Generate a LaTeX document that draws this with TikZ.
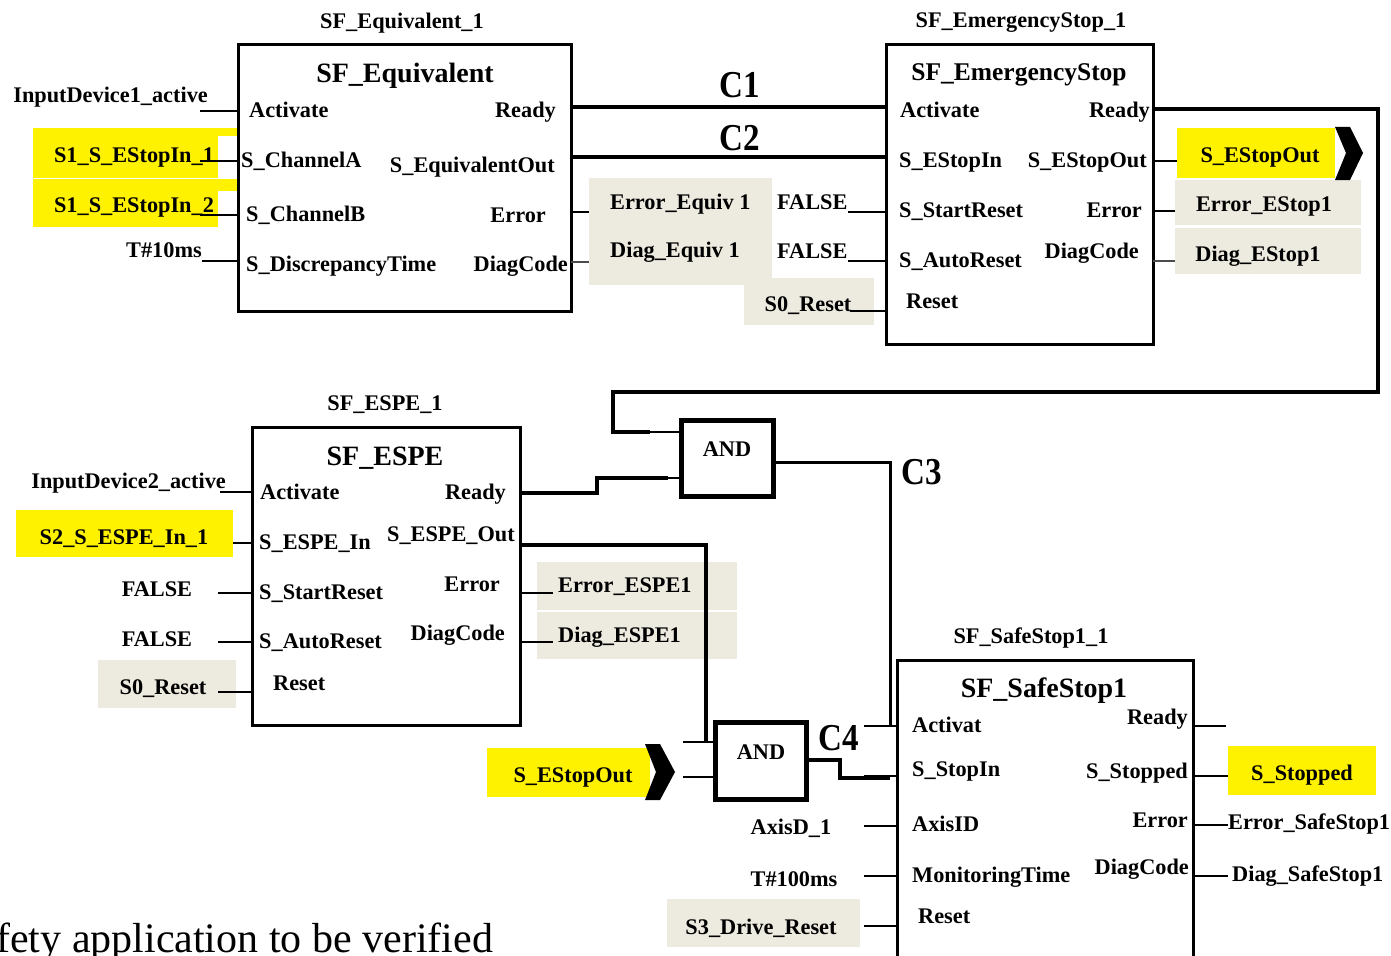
\documentclass[tikz,border=0pt]{standalone}
\usepackage{fontspec}
\setmainfont{Liberation Serif}
\newfontfamily\cf[FakeStretch=0.87]{Liberation Serif}
\definecolor{yel}{RGB}{255,242,0}
\definecolor{beige}{RGB}{237,234,223}
\begin{document}
\begin{tikzpicture}[x=1pt,y=-1pt,
 lbl/.style={font=\bfseries\fontsize{22.3}{24}\selectfont,inner sep=0pt,yshift=-4pt},
 inst/.style={font=\bfseries\fontsize{22.3}{24}\selectfont,inner sep=0pt,yshift=-3pt},
 ttl/.style={font=\bfseries\fontsize{28}{30}\selectfont,inner sep=0pt,yshift=-3pt},
 clab/.style={font=\cf\bfseries\fontsize{38}{40}\selectfont,inner sep=0pt,yshift=-1pt},
 fb/.style={draw,line width=3pt,inner sep=0pt},
 andb/.style={draw,line width=5pt,inner sep=0pt},
 thn/.style={line width=2pt},
 thk/.style={line width=4.5pt},
 mid/.style={line width=3pt},
 ybox/.style={fill=yel,inner sep=0pt},
 bbox/.style={fill=beige,inner sep=0pt},
 chev/.style={fill=black}
]
\useasboundingbox (0,0) rectangle (1391,955);
\clip (0,0) rectangle (1391,955);
\fill[white] (0,0) rectangle (1391,955);

% ---------- backgrounds ----------
\node[ybox,minimum width=185pt,minimum height=50pt] (y1) at (125.5,153) {};
\node[ybox,minimum width=19pt,minimum height=8pt] (y1s) at (227.5,132) {};
\node[ybox,minimum width=185pt,minimum height=48pt] (y2) at (125.5,203) {};
\node[ybox,minimum width=19pt,minimum height=12pt] (y2s) at (227.5,185) {};
\node[bbox,minimum width=183pt,minimum height=107pt] (bq) at (680.5,231.5) {};
\node[bbox,minimum width=130pt,minimum height=47pt] (br1) at (809,301.5) {};
\node[ybox,minimum width=158pt,minimum height=50pt] (yo1) at (1256,153) {};
\node[bbox,minimum width=186pt,minimum height=45pt] (be1) at (1268,202.5) {};
\node[bbox,minimum width=186pt,minimum height=46pt] (bd1) at (1268,251) {};
\node[ybox,minimum width=217pt,minimum height=47pt] (y3) at (124.5,533.5) {};
\node[bbox,minimum width=138pt,minimum height=48pt] (br2) at (167,684) {};
\node[bbox,minimum width=200pt,minimum height=48pt] (be2) at (637,586) {};
\node[bbox,minimum width=200pt,minimum height=47pt] (bd2) at (637,635.5) {};
\node[ybox,minimum width=163pt,minimum height=49pt] (yo2) at (568.5,772.5) {};
\node[bbox,minimum width=193pt,minimum height=48pt] (br3) at (763.5,923) {};
\node[ybox,minimum width=148pt,minimum height=49pt] (ys) at (1302,770.5) {};

% chevrons
\fill[chev] (1335,127) -- (1350,127) -- (1363,153) -- (1350,180) -- (1335,180) -- (1346,153) -- cycle;
\fill[chev] (645,744) -- (660,744) -- (675,772) -- (660,800) -- (645,800) -- (656,772) -- cycle;

% ---------- blocks ----------
\node[fb,minimum width=333pt,minimum height=266pt] (eq) at (404.5,178) {};
\node[fb,minimum width=267pt,minimum height=299pt] (es) at (1019.5,194.5) {};
\node[fb,minimum width=268pt,minimum height=298pt] (espe) at (386,576) {};
\node[fb,minimum width=296pt,minimum height=315pt] (ss) at (1045,817.5) {};
\node[andb,minimum width=92pt,minimum height=76pt] (and1) at (727,458) {};
\node[andb,minimum width=91pt,minimum height=77pt] (and2) at (760.5,760.5) {};

% ---------- texts: SF_Equivalent ----------
\node[inst] (i1) at (402,20) {SF\_Equivalent\_1};
\node[ttl] (t1) at (405,73) {SF\_Equivalent};
\node[lbl,anchor=mid east] (in1) at (208,96) {InputDevice1\_active};
\node[lbl] (s11) at (134,153) {S1\_S\_EStopIn\_1};
\node[lbl] (s12) at (134,203) {S1\_S\_EStopIn\_2};
\node[lbl,anchor=mid east] (t10) at (202,251) {T\#10ms};
\node[lbl,anchor=mid west] (a1) at (249,111) {Activate};
\node[lbl,anchor=mid west] (cha) at (241,161) {S\_ChannelA};
\node[lbl,anchor=mid west] (chb) at (246,215) {S\_ChannelB};
\node[lbl,anchor=mid west] (dt) at (246,265) {S\_DiscrepancyTime};
\node[lbl,anchor=mid east] (r1) at (556,111) {Ready};
\node[lbl,anchor=mid east] (eo) at (555,166) {S\_EquivalentOut};
\node[lbl,anchor=mid east] (e1) at (546,216) {Error};
\node[lbl,anchor=mid east] (d1) at (568,265) {DiagCode};
\node[clab] (c1) at (740,84) {C1};
\node[clab] (c2) at (740,137) {C2};
\node[lbl,anchor=mid west] (erq) at (610,203) {Error\_Equiv 1};
\node[lbl,anchor=mid west] (dgq) at (610,251) {Diag\_Equiv 1};
\node[lbl,anchor=mid west] (f1) at (777,203) {FALSE};
\node[lbl,anchor=mid west] (f2) at (777,252) {FALSE};
\node[lbl] (s0a) at (808,302) {S0\_Reset};

% ---------- texts: SF_EmergencyStop ----------
\node[inst] (i2) at (1021,20) {SF\_EmergencyStop\_1};
\node[ttl,font=\bfseries\fontsize{25.5}{28}\selectfont] (t2) at (1019,72) {SF\_EmergencyStop};
\node[lbl,anchor=mid west] (a2) at (900,111) {Activate};
\node[lbl,anchor=mid west] (ei2) at (899,161) {S\_EStopIn};
\node[lbl,anchor=mid west] (sr2) at (899,211) {S\_StartReset};
\node[lbl,anchor=mid west] (ar2) at (899,261) {S\_AutoReset};
\node[lbl,anchor=mid west] (rs2) at (906,302) {Reset};
\node[lbl,anchor=mid east] (r2) at (1150,111) {Ready};
\node[lbl,anchor=mid east] (eo2) at (1147,161) {S\_EStopOut};
\node[lbl,anchor=mid east] (e2) at (1142,211) {Error};
\node[lbl,anchor=mid east] (d2) at (1139,252) {DiagCode};
\node[lbl] (eso1) at (1260,153) {S\_EStopOut};
\node[lbl] (ees) at (1264,202) {Error\_EStop1};
\node[lbl] (des) at (1258,252) {Diag\_EStop1};

% ---------- texts: SF_ESPE ----------
\node[inst] (i3) at (385,402) {SF\_ESPE\_1};
\node[ttl] (t3) at (385,455) {SF\_ESPE};
\node[lbl,anchor=mid east] (in2) at (226,482) {InputDevice2\_active};
\node[lbl] (s2) at (124,535) {S2\_S\_ESPE\_In\_1};
\node[lbl] (f3) at (157,585) {FALSE};
\node[lbl] (f4) at (157,635) {FALSE};
\node[lbl] (s0b) at (163,685) {S0\_Reset};
\node[lbl,anchor=mid west] (a3) at (260,493) {Activate};
\node[lbl,anchor=mid west] (ei3) at (259,543) {S\_ESPE\_In};
\node[lbl,anchor=mid west] (sr3) at (259,593) {S\_StartReset};
\node[lbl,anchor=mid west] (ar3) at (259,642) {S\_AutoReset};
\node[lbl,anchor=mid west] (rs3) at (273,684) {Reset};
\node[lbl,anchor=mid east] (r3) at (506,493) {Ready};
\node[lbl,anchor=mid east] (eo3) at (515,535) {S\_ESPE\_Out};
\node[lbl,anchor=mid east] (e3) at (500,585) {Error};
\node[lbl,anchor=mid east] (d3) at (505,634) {DiagCode};
\node[lbl,anchor=mid west] (eesp) at (558,586) {Error\_ESPE1};
\node[lbl,anchor=mid west] (desp) at (558,636) {Diag\_ESPE1};

% ---------- AND / C labels ----------
\node[lbl] (and1t) at (727,445) {AND};
\node[lbl] (and2t) at (761,748) {AND};
\node[clab] (c3) at (922,471) {C3};
\node[clab] (c4) at (839,737) {C4};
\node[lbl] (eso2) at (573,773) {S\_EStopOut};

% ---------- texts: SF_SafeStop1 ----------
\node[inst] (i4) at (1031,635) {SF\_SafeStop1\_1};
\node[ttl] (t4) at (1044,688) {SF\_SafeStop1};
\node[lbl,anchor=mid west] (a4) at (912,726) {Activat};
\node[lbl,anchor=mid west] (si4) at (912,770) {S\_StopIn};
\node[lbl,anchor=mid west] (ax4) at (912,825) {AxisID};
\node[lbl,anchor=mid west] (mt4) at (912,876) {MonitoringTime};
\node[lbl,anchor=mid west] (rs4) at (918,917) {Reset};
\node[lbl,anchor=mid east] (r4) at (1188,718) {Ready};
\node[lbl,anchor=mid east] (st4) at (1188,772) {S\_Stopped};
\node[lbl,anchor=mid east] (e4) at (1188,821) {Error};
\node[lbl,anchor=mid east] (d4) at (1189,868) {DiagCode};
\node[lbl] (axd) at (791,824) {AxisD\_1};
\node[lbl] (t100) at (794,875) {T\#100ms};
\node[lbl] (s3r) at (761,924) {S3\_Drive\_Reset};
\node[lbl] (sst) at (1302,771) {S\_Stopped};
\node[lbl,anchor=mid west] (ess) at (1228,823) {Error\_SafeStop1};
\node[lbl,anchor=mid west] (dss) at (1232,875) {Diag\_SafeStop1};

\node[font=\fontsize{42}{44}\selectfont,inner sep=0pt,anchor=base west] (cap) at (-4,952) {fety application to be verified};

% ---------- connectors: SF_Equivalent ----------
\coordinate (p1) at (200,111);
\coordinate (p2) at (200,161);
\coordinate (p3) at (200,215);
\coordinate (p4) at (202,261);
\draw[thn] (p1) -- (p1 -| eq.west);
\draw[thn] (p2) -- (p2 -| eq.west);
\draw[thn] (p3) -- (p3 -| eq.west);
\draw[thn] (p4) -- (p4 -| eq.west);
\coordinate (q1) at (571,107);
\coordinate (q2) at (571,157);
\draw[thk] (q1) -- (q1 -| es.west);
\draw[thk] (q2) -- (q2 -| es.west);
\coordinate (q3) at (571,212);
\coordinate (q4) at (571,262);
\draw[thn] (q3) -- (q3 -| bq.west);
\draw[thn,line width=1.5pt,black!70] (q4) -- (q4 -| bq.west);
\coordinate (f1e) at (848,212);
\coordinate (f2e) at (848,261);
\coordinate (s0e) at (850,311);
\draw[thn] (f1e) -- (f1e -| es.west);
\draw[thn] (f2e) -- (f2e -| es.west);
\draw[thn] (s0e) -- (s0e -| es.west);

% ---------- connectors: SF_EmergencyStop ----------
\coordinate (rr) at (1155,109);
\coordinate (rc1) at (1378,109);
\coordinate (rc2) at (1378,392);
\coordinate (rc3) at (613,392);
\coordinate (rc4) at (613,432);
\coordinate (rc5) at (650,432);
\draw[thk,line join=miter] (rr) -- (rc1) -- (rc2) -- (rc3) -- (rc4) -- (rc5);
\draw[thn] (rc5) -- (rc5 -| and1.west);
\coordinate (o1) at (1153,161);
\coordinate (o2) at (1153,211);
\coordinate (o3) at (1153,261);
\draw[thn] (o1) -- (o1 -| yo1.west);
\draw[thn] (o2) -- (o2 -| be1.west);
\draw[thn,line width=1.5pt,black!70] (o3) -- (o3 -| bd1.west);

% ---------- connectors: SF_ESPE ----------
\coordinate (e1s) at (220,492);
\coordinate (e2s) at (233,543);
\coordinate (e3s) at (218,593);
\coordinate (e4s) at (218,642);
\coordinate (e5s) at (218,692);
\draw[thn] (e1s) -- (e1s -| espe.west);
\draw[thn] (e2s) -- (e2s -| espe.west);
\draw[thn] (e3s) -- (e3s -| espe.west);
\draw[thn] (e4s) -- (e4s -| espe.west);
\draw[thn] (e5s) -- (e5s -| espe.west);
\coordinate (ra) at (520,493);
\coordinate (rb) at (597,493);
\coordinate (rcq) at (597,478);
\coordinate (rd) at (668,478);
\draw[thk,line join=miter] (ra) -- (rb) -- (rcq) -- (rd);
\draw[thn] (rd) -- (rd -| and1.west);
\coordinate (oa) at (520,545);
\coordinate (ob) at (706,545);
\coordinate (oc) at (706,742);
\draw[thk,line join=miter] (oa) -- (ob) -- (oc);
\draw[thn] (oc) -- (oc -| and2.west);
\coordinate (ea) at (520,593);
\coordinate (da) at (520,642);
\draw[thn] (ea) -- (ea -| be2.west) -- ++(16,0);
\draw[thn,line width=1.5pt] (da) -- (da -| bd2.west) -- ++(16,0);

% ---------- AND outputs ----------
\coordinate (a1o) at (773,462);
\coordinate (a1c) at (890,462);
\coordinate (a1d) at (890,725);
\draw[mid,line join=miter] (a1o) -- (a1c) -- (a1d);
\coordinate (act) at (864,726);
\draw[thn] (act) -- (act -| ss.west);
\coordinate (i2a) at (683,742);
\coordinate (i2b) at (683,777);
\draw[thn] (i2a) -- (i2a -| and2.west);
\draw[thn] (i2b) -- (i2b -| and2.west);
\coordinate (c4a) at (806,760);
\coordinate (c4b) at (840,760);
\coordinate (c4c) at (840,778);
\coordinate (c4d) at (890,778);
\draw[thk,line join=miter] (c4a) -- (c4b) -- (c4c) -- (c4d);
\coordinate (sti) at (864,776);
\draw[thn] (sti) -- (sti -| ss.west);

% ---------- connectors: SF_SafeStop1 ----------
\coordinate (l1) at (864,826);
\coordinate (l2) at (864,876);
\coordinate (l3) at (864,926);
\draw[thn] (l1) -- (l1 -| ss.west);
\draw[thn] (l2) -- (l2 -| ss.west);
\draw[thn] (l3) -- (l3 -| ss.west);
\coordinate (m1) at (1226,726);
\coordinate (m2) at (1228,776);
\coordinate (m3) at (1228,825);
\coordinate (m4) at (1228,876);
\draw[thn] (m1 -| ss.east) -- (m1);
\draw[thn] (m2 -| ss.east) -- (m2);
\draw[thn] (m3 -| ss.east) -- (m3);
\draw[thn] (m4 -| ss.east) -- (m4);
\end{tikzpicture}
\end{document}
